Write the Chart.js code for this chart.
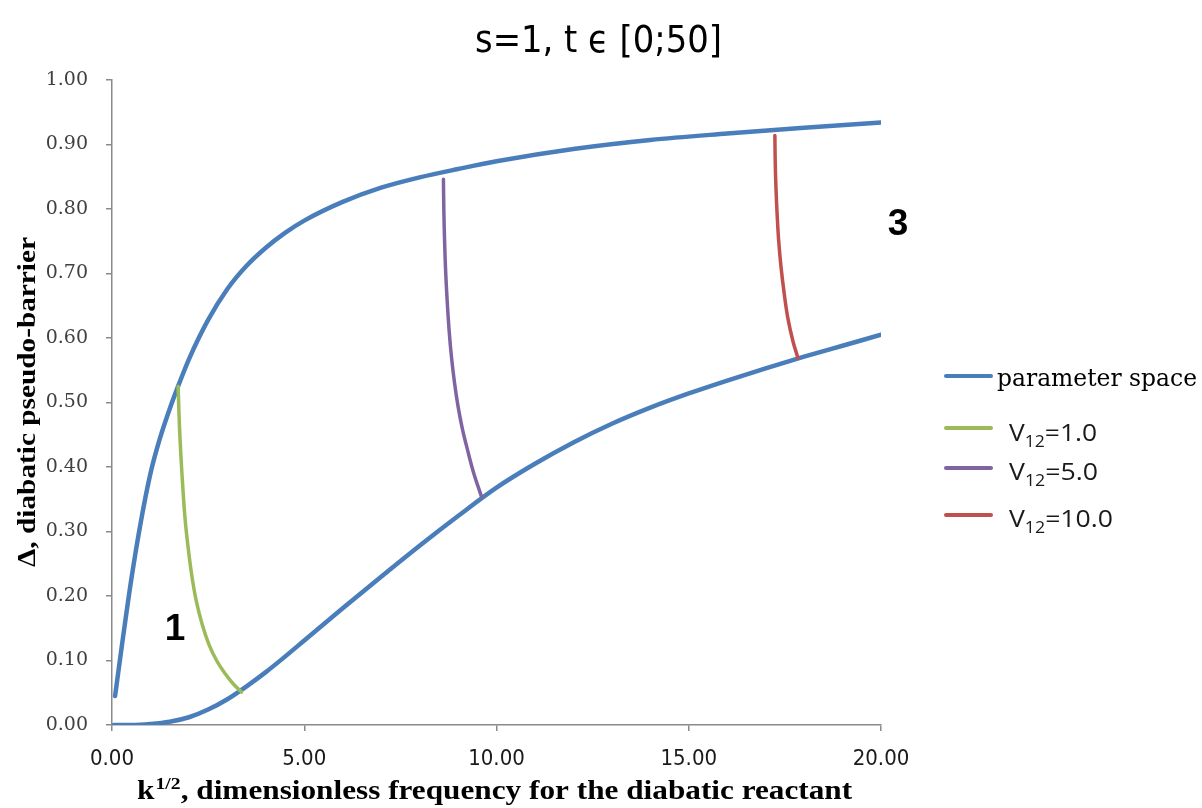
<!DOCTYPE html>
<html>
<head>
<meta charset="utf-8">
<script src="https://cdn.jsdelivr.net/npm/chart.js@4.4.1/dist/chart.umd.min.js"></script>
<style>
    html, body { margin: 0; padding: 0; background: #ffffff; }
    #chartContainer { position: relative; width: 1202px; height: 808px; }
</style>
</head>
<body>
<div id="chartContainer"><canvas id="lineChart"></canvas></div>
<script>
// parameter space, upper border (k^1/2, delta)
const upperK = [0.08, 0.25, 0.5, 0.75, 1.0, 1.25, 1.5, 1.75, 2.0, 2.5, 3.0, 3.5, 4.0, 4.5, 5.0, 6.0, 7.0, 8.0, 9.0, 10.0, 12.0, 14.0, 16.0, 18.0, 20.0];
const upperD = [0.045, 0.12, 0.225, 0.315, 0.39, 0.445, 0.49, 0.53, 0.567, 0.628, 0.676, 0.712, 0.740, 0.763, 0.782, 0.811, 0.833, 0.849, 0.862, 0.874, 0.893, 0.907, 0.917, 0.926, 0.934];

// parameter space, lower border
const lowerK = [0.05, 0.5, 1.0, 1.5, 2.0, 2.5, 3.0, 3.5, 4.0, 4.5, 5.0, 6.0, 7.0, 8.0, 9.0, 10.0, 11.0, 12.0, 13.0, 14.0, 15.0, 16.0, 17.0, 18.0, 19.0, 20.0];
const lowerD = [0.0, 0.0, 0.0015, 0.005, 0.012, 0.024, 0.040, 0.060, 0.082, 0.106, 0.131, 0.181, 0.230, 0.278, 0.324, 0.368, 0.405, 0.438, 0.467, 0.492, 0.514, 0.534, 0.553, 0.571, 0.588, 0.605];

// V12 = 1.0
const v1K = [1.72, 1.75, 1.79, 1.84, 1.90, 1.98, 2.08, 2.20, 2.35, 2.52, 2.72, 2.95, 3.15, 3.37];
const v1D = [0.525, 0.47, 0.42, 0.37, 0.32, 0.275, 0.23, 0.19, 0.155, 0.125, 0.10, 0.079, 0.064, 0.051];

// V12 = 5.0
const v5K = [8.62, 8.63, 8.65, 8.68, 8.72, 8.77, 8.83, 8.91, 9.00, 9.11, 9.24, 9.41, 9.61];
const v5D = [0.846, 0.80, 0.75, 0.70, 0.655, 0.61, 0.57, 0.53, 0.494, 0.46, 0.428, 0.39, 0.354];

// V12 = 10.0
const v10K = [17.24, 17.25, 17.27, 17.30, 17.34, 17.40, 17.48, 17.58, 17.71, 17.84];
const v10D = [0.914, 0.87, 0.83, 0.79, 0.75, 0.71, 0.67, 0.63, 0.595, 0.569];

const xMin = 0, xMax = 20, xStep = 5;
const yMin = 0, yMax = 1, yStep = 0.1;

const seriesLabels = ['parameter space', 'V12=1.0', 'V12=5.0', 'V12=10.0'];
const seriesColors = ['#4a7ebb', '#9bbb59', '#8064a2', '#c0504d'];

function toPoints(xs, ys) {
    return xs.map((x, i) => ({ x: x, y: ys[i] }));
}

// 텍스트를 지정 폭에 맞춰 그리기
function fitText(ctx, text, x, y, width) {
    const w = ctx.measureText(text).width;
    ctx.save();
    ctx.translate(x, y);
    ctx.scale(width / w, 1);
    ctx.textAlign = 'left';
    ctx.fillText(text, 0, 0);
    ctx.restore();
}

const AXIS_GRAY = '#8a8a8a';

const textPlugin = {
    id: 'textPlugin',
    afterDraw(chart) {
        const ctx = chart.ctx;
        ctx.save();
        ctx.fillStyle = '#000000';
        ctx.textBaseline = 'alphabetic';

        // title
        ctx.font = "38px 'Liberation Sans Narrow', 'DejaVu Sans Condensed', sans-serif";
        fitText(ctx, 's=1, t \u03F5 [0;50]', 475, 52, 247);

        // x axis title with superscript
        const big = "bold 27px 'Liberation Serif', serif";
        const small = "bold 17px 'Liberation Serif', serif";
        const p1 = 'k', p2 = '1/2', p3 = ', dimensionless frequency for the diabatic reactant';
        ctx.font = big; const w1 = ctx.measureText(p1).width; const w3 = ctx.measureText(p3).width;
        ctx.font = small; const w2 = ctx.measureText(p2).width;
        const sx = 714 / (w1 + w2 + w3);
        ctx.save();
        ctx.translate(137, 799);
        ctx.scale(sx, 1);
        ctx.font = big; ctx.fillText(p1, 0, 0);
        ctx.font = small; ctx.fillText(p2, w1 + 1, -10);
        ctx.font = big; ctx.fillText(p3, w1 + w2 + 1, 0);
        ctx.restore();

        // y axis title
        ctx.save();
        ctx.translate(35, 402);
        ctx.rotate(-Math.PI / 2);
        ctx.font = "bold 26px 'Liberation Serif', serif";
        const yt = '\u0394, diabatic pseudo-barrier';
        const yw = ctx.measureText(yt).width;
        ctx.scale(330 / yw, 1);
        ctx.textAlign = 'center';
        ctx.fillText(yt, 0, 0);
        ctx.restore();

        // region labels
        ctx.font = "bold 37px 'Liberation Sans', 'Open Sans', sans-serif";
        ctx.textAlign = 'center';
        ctx.textBaseline = 'middle';
        ctx.fillText('1', 175, 630);
        ctx.fillText('3', 898, 225);

        // legend
        const rows = [
            { y: 376, ty: 386, tx: 997, tw: 200 },
            { y: 428, ty: 441, tx: 1009, tw: 88 },
            { y: 468, ty: 480, tx: 1009, tw: 89 },
            { y: 515, ty: 527, tx: 1009, tw: 104 },
        ];
        ctx.lineCap = 'round';
        ctx.textAlign = 'left';
        ctx.textBaseline = 'alphabetic';
        rows.forEach((r, i) => {
            ctx.strokeStyle = seriesColors[i];
            ctx.lineWidth = 4;
            ctx.beginPath();
            ctx.moveTo(946, r.y);
            ctx.lineTo(991, r.y);
            ctx.stroke();
            if (i === 0) {
                ctx.font = "24px 'DejaVu Serif', serif";
                ctx.fillStyle = '#000000';
                fitText(ctx, seriesLabels[0], r.tx, r.ty, r.tw);
            } else {
                const lbl = seriesLabels[i];
                const a = 'V', b = '12', c = lbl.slice(3);
                const fb = "24px 'Open Sans', 'Noto Sans', sans-serif";
                const fs = "16px 'Open Sans', 'Noto Sans', sans-serif";
                ctx.font = fb; const wa = ctx.measureText(a).width; const wc = ctx.measureText(c).width;
                ctx.font = fs; const wb = ctx.measureText(b).width;
                ctx.save();
                ctx.translate(r.tx, r.ty);
                ctx.scale(r.tw / (wa + wb + wc), 1);
                ctx.fillStyle = '#1a1a1a';
                ctx.font = fb; ctx.fillText(a, 0, 0);
                ctx.font = fs; ctx.fillText(b, wa, 6);
                ctx.font = fb; ctx.fillText(c, wa + wb, 0);
                ctx.restore();
            }
        });
        ctx.restore();
    },
};

function makeSet(label, xs, ys, color, order, width, monotone) {
    return {
        label: label,
        data: toPoints(xs, ys),
        borderColor: color,
        backgroundColor: color,
        borderWidth: width,
        pointRadius: 0,
        cubicInterpolationMode: monotone ? 'monotone' : 'default',
        tension: 0.4,
        borderCapStyle: 'round',
        fill: false,
        order: order,
    };
}

const canvas = document.getElementById('lineChart');
const lineChart = new Chart(canvas.getContext('2d'), {
    type: 'line',
    data: {
        datasets: [
            makeSet(seriesLabels[1], v1K, v1D, seriesColors[1], 0, 3.5, false),
            makeSet(seriesLabels[2], v5K, v5D, seriesColors[2], 0, 3.5, false),
            makeSet(seriesLabels[3], v10K, v10D, seriesColors[3], 0, 3.5, false),
            makeSet(seriesLabels[0], upperK, upperD, seriesColors[0], 1, 4.5, true),
            makeSet(seriesLabels[0], lowerK, lowerD, seriesColors[0], 1, 4.5, true),
        ],
    },
    options: {
        responsive: true,
        maintainAspectRatio: false,
        animation: false,
        layout: { padding: { left: 0, top: 80, right: 321, bottom: 0 } },
        plugins: {
            legend: { display: false },
            tooltip: { enabled: false },
            title: { display: false },
        },
        scales: {
            x: {
                type: 'linear',
                min: xMin,
                max: xMax,
                afterFit: (scale) => { scale.height = 83; },
                border: { display: true, color: AXIS_GRAY, width: 1.5 },
                grid: { display: true, drawOnChartArea: false, drawTicks: true, tickLength: 6, color: AXIS_GRAY, lineWidth: 1.5 },
                ticks: {
                    stepSize: xStep,
                    padding: 15,
                    color: '#1a1a1a',
                    font: { family: "'Liberation Sans Narrow', 'DejaVu Sans Condensed', sans-serif", size: 22 },
                    callback: (v) => Number(v).toFixed(2),
                },
            },
            y: {
                type: 'linear',
                min: yMin,
                max: yMax,
                afterFit: (scale) => { scale.width = 112; },
                border: { display: true, color: AXIS_GRAY, width: 1.5 },
                grid: { display: true, drawOnChartArea: false, drawTicks: true, tickLength: 6, color: AXIS_GRAY, lineWidth: 1.5 },
                ticks: {
                    stepSize: yStep,
                    padding: 18,
                    color: '#404040',
                    font: { family: "'DejaVu Serif', serif", size: 19 },
                    callback: (v) => Number(v).toFixed(2),
                },
            },
        },
    },
    plugins: [textPlugin],
});
</script>
</body>
</html>
